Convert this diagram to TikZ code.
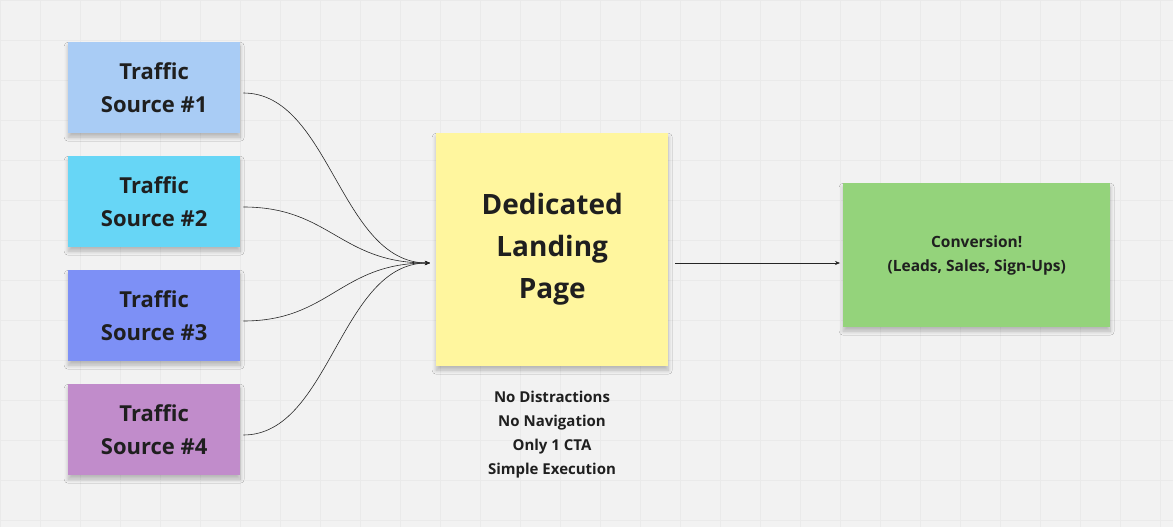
\documentclass[tikz,border=0pt]{standalone}
\usepackage{fontspec}
\setmainfont{Open Sans}
\usetikzlibrary{arrows.meta,shadows.blur}
\definecolor{bg}{HTML}{F2F2F2}
\definecolor{gridc}{HTML}{EAEAEA}
\definecolor{c1}{HTML}{A9CCF5}
\definecolor{c2}{HTML}{67D6F6}
\definecolor{c3}{HTML}{7D90F6}
\definecolor{c4}{HTML}{C18CCB}
\definecolor{cy}{HTML}{FFF69E}
\definecolor{cg}{HTML}{94D37B}
\definecolor{tx}{HTML}{1F1F1F}
\tikzset{
 sticky/.style={draw=none, anchor=north west, inner sep=0pt, align=center, text=tx, font=\bfseries,
   blur shadow={shadow xshift=0pt, shadow yshift=-4pt, shadow blur radius=4pt, shadow blur steps=8, shadow opacity=25}},
 ts/.style={sticky, minimum width=172pt, minimum height=91pt, font=\fontsize{22}{33}\selectfont\bfseries},
 link/.style={draw=black!85, line width=0.6pt, -{Stealth[length=5pt,width=4pt]}},
}
\begin{document}
\begin{tikzpicture}[x=1pt,y=-1pt]
\fill[bg] (0,0) rectangle (1173,527);
\useasboundingbox (0,0) rectangle (1173,527);
\foreach \x in {0,40,...,1160} \draw[gridc,line width=0.5pt] (\x,0) -- (\x,527);
\foreach \y in {0,40,...,520} \draw[gridc,line width=0.5pt] (0,\y) -- (1173,\y);
\node[ts, fill=c1] (s1) at (68,42) {Traffic\\Source \#1};
\node[ts, fill=c2] (s2) at (68,156) {Traffic\\Source \#2};
\node[ts, fill=c3] (s3) at (68,270) {Traffic\\Source \#3};
\node[ts, fill=c4] (s4) at (68,384) {Traffic\\Source \#4};
\node[sticky, fill=cy, minimum width=232pt, minimum height=233pt, font=\fontsize{28}{42}\selectfont\bfseries] (lp) at (436,133) {Dedicated\\Landing\\Page};
\node[sticky, fill=cg, minimum width=267pt, minimum height=144pt, font=\fontsize{15.5}{24}\selectfont\bfseries] (cv) at (843,183) {Conversion!\\(Leads, Sales, Sign-Ups)};
\node[align=center, text=tx, font=\fontsize{15}{24}\selectfont\bfseries, anchor=north] (notes) at (552,388) {No Distractions\\No Navigation\\Only 1 CTA\\Simple Execution};
\coordinate (in) at (430,263);
\foreach \s/\yy in {s1/93,s2/207,s3/321,s4/435}{
  \draw[link] ([xshift=3pt]\s.north east |- 0,\yy) .. controls (330,\yy) and (340,263) .. (in);
}
\draw[link] ([xshift=7pt]lp.north east |- in) -- ([xshift=-3pt]cv.north west |- in);
\end{tikzpicture}
\end{document}
